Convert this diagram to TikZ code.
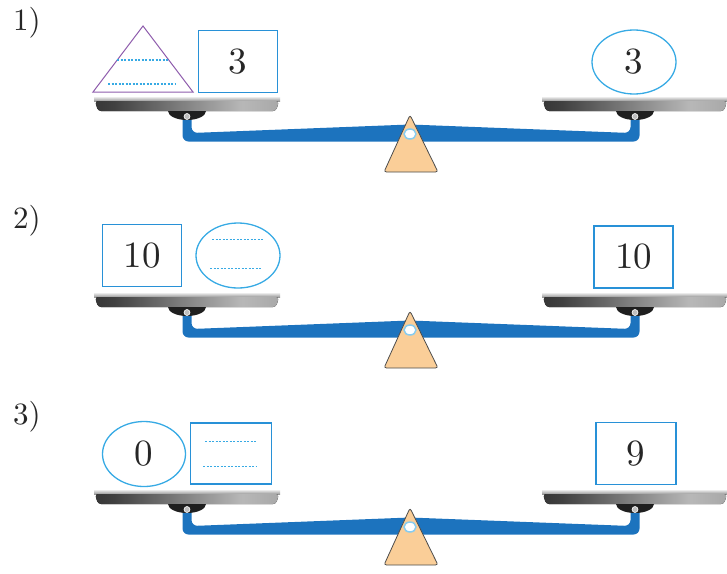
\documentclass[tikz,border=0pt]{standalone}
\usepackage{fontspec}
\usepackage{tikz}
\usetikzlibrary{shapes,positioning,calc}
\newfontfamily\numfam{lmroman10-regular}[Extension=.otf]
\definecolor{boxblue}{RGB}{40,145,215}
\definecolor{ringblue}{RGB}{55,170,228}
\definecolor{beamblue}{RGB}{28,115,190}
\definecolor{pyrpurple}{RGB}{142,92,172}
\definecolor{standpeach}{RGB}{250,206,152}
\pgfdeclarehorizontalshading{panshade}{100bp}{color(0bp)=(black!95); color(30bp)=(black!75); color(65bp)=(black!28); color(88bp)=(black!42); color(100bp)=(black!75)}
\newcommand{\numfont}{\numfam\fontsize{37}{40}\selectfont}
\newcommand{\labfont}{\numfam\fontsize{31}{34}\selectfont}
\tikzstyle{numbox} = [rectangle, draw=boxblue, line width=1.3pt, minimum width=79pt, minimum height=62pt, inner sep=0pt, font=\numfont, text=black!85]
\tikzstyle{numring} = [ellipse, draw=ringblue, line width=1.3pt, minimum width=84pt, minimum height=64pt, inner sep=0pt, font=\numfont, text=black!85]
\tikzstyle{blankline} = [draw=ringblue, line width=1.5pt, dash pattern=on 2pt off 1.5pt]
\tikzstyle{beam} = [fill=beamblue, rounded corners=6pt]
\tikzstyle{stand} = [fill=standpeach, draw=black!70, line width=0.8pt, rounded corners=2.5pt]
% one pan, #1 = centre x
\newcommand{\drawpan}[1]{%
  \fill[top color=black!8, bottom color=black!40] (#1-93,97) rectangle (#1+93,101);
  \fill[shading=panshade, rounded corners=3pt] (#1-92,101) -- (#1+92,101) -- (#1+89,111) -- (#1-89,111) -- cycle;
  \fill[black!88] (#1-19,111) arc[start angle=180, end angle=360, x radius=19pt, y radius=9pt] -- cycle;
  \filldraw[fill=black!25, draw=white, line width=0.6pt] (#1,116.5) circle (3pt);
}

\begin{document}
\begin{tikzpicture}[x=1pt, y=-1pt]
\useasboundingbox (0,0) rectangle (727,573);

% row labels
\node[font=\labfont, text=black!85] (lab1) at (27,23) {1)};
\node[font=\labfont, text=black!85] (lab2) at (27,221) {2)};
\node[font=\labfont, text=black!85] (lab3) at (27,417) {3)};

% the three balances
\foreach \dy in {0,196,393} {
  \begin{scope}[yshift=-\dy pt]
    \fill[beam] (410,141.5) -- (182.5,141.5) -- (182.5,112) -- (191.5,112) -- (191.5,133)
      -- (410,124.5) -- (630.5,133) -- (630.5,112) -- (639.5,112) -- (639.5,141.5) -- cycle;
    \filldraw[stand] (410,115) -- (438,172) -- (384,172) -- cycle;
    \filldraw[fill=white, draw=ringblue!60, line width=1.5pt] (410,134) ellipse (6pt and 5pt);
    \drawpan{187}
    \drawpan{635}
  \end{scope}
}

% 1) pyramid, box and ring
\draw[pyrpurple, line width=1pt] (93,92) -- (143,26) -- (193,92) -- cycle;
\draw[blankline] (117,60) -- (168,60);
\draw[blankline] (108,84) -- (175,84);
\node[numbox] (box1) at (238,61.5) {3};
\node[numring] (ring1) at (634,62) {3};

% 2) box and blank ring
\node[numbox] (box2l) at (142,255.5) {10};
\node[numring, minimum height=65pt] (ring2) at (238,255.5) {};
\draw[blankline] ($(ring2.center)+(-26,-16)$) -- ($(ring2.center)+(25,-16)$);
\draw[blankline] ($(ring2.center)+(-28,13)$) -- ($(ring2.center)+(24,13)$);
\node[numbox] (box2r) at (633.5,257) {10};

% 3) ring and blank box
\node[numring, minimum width=83pt, minimum height=65pt] (ring3) at (144,454) {0};
\node[numbox, minimum width=81pt, minimum height=61pt] (box3l) at (231,453.5) {};
\draw[blankline] ($(box3l.center)+(-26,-12)$) -- ($(box3l.center)+(26,-12)$);
\draw[blankline] ($(box3l.center)+(-28,13)$) -- ($(box3l.center)+(25,13)$);
\node[numbox, minimum width=80pt] (box3r) at (636,453.5) {9};
\end{tikzpicture}
\end{document}
